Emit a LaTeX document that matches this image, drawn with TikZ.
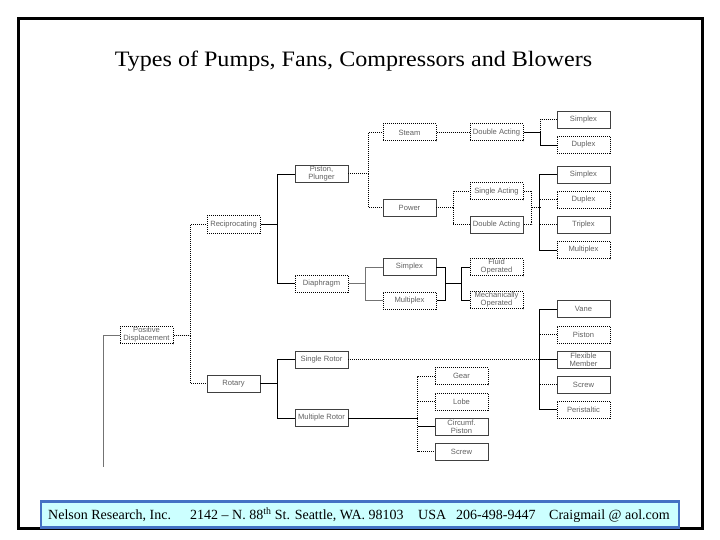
\documentclass[tikz,border=0pt]{standalone}
\usepackage{fontspec}
\setmainfont{Liberation Serif}
\setsansfont{Liberation Sans}
\usetikzlibrary{positioning}
\definecolor{boxtext}{HTML}{606060}
\definecolor{footfill}{HTML}{CCFFFF}
\definecolor{footdraw}{HTML}{4472C4}
\tikzset{
  sbox/.style={draw=black!75, line width=0.7pt, minimum width=53pt, minimum height=17pt, inner sep=0pt,
    font=\sffamily\fontsize{7.6}{8}\selectfont, text=boxtext, align=center},
  dbox/.style={sbox, draw=black, line width=1pt, densely dotted},
  sline/.style={draw=black, line width=0.8pt},
  gline/.style={draw=black!55, line width=0.6pt},
  dline/.style={draw=black, line width=1pt, densely dotted},
}
\begin{document}
\begin{tikzpicture}[x=1pt,y=-1pt]
\useasboundingbox (0,0) rectangle (720,540);
\draw[line width=3pt] (18.5,18.5) rectangle (702,528.5);
\node (title) at (353.5,61) {\fontsize{22}{24}\selectfont\scalebox{1.095}[1]{Types of Pumps, Fans, Compressors and Blowers}};
% footer
\node[draw=footdraw, line width=2.2pt, fill=footfill, minimum width=638pt, minimum height=26pt, inner sep=0pt] (foot) at (360,514.5) {};
\begin{scope}[every node/.style={font=\fontsize{14}{16}\selectfont, inner sep=0pt, anchor=base west}]
\node (f1) at (48,519.5) {Nelson Research, Inc.};
\node (f2) at (190,519.5) {2142 – N. 88\textsuperscript{th} St. Seattle, WA. 98103};
\node (f3) at (418,519.5) {USA};
\node (f4) at (456,519.5) {206-498-9447};
\node (f5) at (549,519.5) {Craigmail @ aol.com};
\end{scope}
% level 1
\node[dbox] (pd) at (146.5,335) {Positive\\Displacement};
\node[dbox] (rec) at (233.5,224.5) {Reciprocating};
\node[sbox] (rot) at (233.5,383.5) {Rotary};
% level 2
\node[sbox] (pis) at (321.5,174) {Piston,\\Plunger};
\node[dbox] (dia) at (321.5,283.5) {Diaphragm};
\node[sbox] (sr) at (321.5,359.5) {Single Rotor};
\node[sbox] (mr) at (321.5,418) {Multiple Rotor};
% level 3
\node[dbox] (steam) at (409.5,132.5) {Steam};
\node[sbox] (pow) at (409.5,207.5) {Power};
\node[sbox] (dsim) at (409.5,267) {Simplex};
\node[dbox] (dmul) at (409.5,300.5) {Multiplex};
\node[dbox] (gear) at (461.5,376) {Gear};
\node[dbox] (lobe) at (461.5,401.5) {Lobe};
\node[sbox] (circ) at (461.5,426.5) {Circumf.\\Piston};
\node[sbox] (scr2) at (461.5,451.5) {Screw};
% level 4
\node[dbox] (da1) at (496.5,132.5) {Double Acting};
\node[dbox] (sa) at (496.5,191.5) {Single Acting};
\node[sbox] (da2) at (496.5,224.5) {Double Acting};
\node[dbox] (fluid) at (496.5,267) {Fluid\\Operated};
\node[dbox] (mech) at (496.5,300) {Mechanically\\Operated};
% level 5
\node[sbox] (sim1) at (583.5,119.5) {Simplex};
\node[dbox] (dup1) at (583.5,145) {Duplex};
\node[sbox] (sim2) at (583.5,174.5) {Simplex};
\node[dbox] (dup2) at (583.5,200) {Duplex};
\node[sbox] (tri) at (583.5,224.5) {Triplex};
\node[dbox] (mul) at (583.5,250) {Multiplex};
\node[sbox] (vane) at (583.5,309) {Vane};
\node[dbox] (pist) at (583.5,334.5) {Piston};
\node[sbox] (flex) at (583.5,359.5) {Flexible\\Member};
\node[sbox] (scr) at (583.5,384.5) {Screw};
\node[dbox] (peri) at (583.5,409.5) {Peristaltic};
% coordinates
\coordinate (lend) at (103,467);
% connectors
\draw[gline] (pd.west) -| (lend);
\draw[dline] (pd.east) -- ++(17,0) |- (rec.west);
\draw[dline] (pd.east) -- ++(17,0) |- (rot.west);
\draw[sline] (rec.east) -- ++(17,0) |- (pis.west);
\draw[sline] (rec.east) -- ++(17,0) |- (dia.west);
\draw[sline] (rot.east) -- ++(17,0) |- (sr.west);
\draw[sline] (rot.east) -- ++(17,0) |- (mr.west);
\draw[dline] (pis.east) -- ++(20,0) |- (steam.west);
\draw[dline] (pis.east) -- ++(20,0) |- (pow.west);
\draw[dline] (steam.east) -- (da1.west);
\draw[dline] (pow.east) -- ++(17,0) |- (sa.west);
\draw[dline] (pow.east) -- ++(17,0) |- (da2.west);
\draw[sline] (da1.east) -- ++(17,0) |- (dup1.west);
\draw[dline] (da1.east) ++(17,0) |- (sim1.west);
\draw[dline] (sa.east) -- ++(8,0) |- (da2.east);
\draw[dline] (sa.east) ++(8,16.5) -- ++(9,0);
\draw[sline] (sim2.west) -- ++(-17,0) |- (mul.west);
\draw[dline] (dup2.west) -- ++(-17,0);
\draw[dline] (tri.west) -- ++(-17,0);
\draw[gline] (dia.east) -- ++(17,0) |- (dsim.west);
\draw[gline] (dia.east) -- ++(17,0) |- (dmul.west);
\draw[sline] (dsim.east) -- ++(9,0) |- (dmul.east);
\draw[sline] (dsim.east) ++(9,16.5) -- ++(17,0);
\draw[sline] (fluid.west) -- ++(-8,0) |- (mech.west);
\draw[dline] (sr.east) -- ++(192,0);
\draw[sline] (vane.west) -- ++(-17,0) |- (peri.west);
\draw[dline] (vane.west) -- ++(-17,0);
\draw[dline] (pist.west) -- ++(-17,0);
\draw[sline] (flex.west) -- ++(-17,0);
\draw[dline] (scr.west) -- ++(-17,0);
\draw[dline] (peri.west) -- ++(-17,0);
\draw[sline] (mr.east) -- ++(70,0);
\draw[dline] (gear.west) -- ++(-17,0) |- (scr2.west);
\draw[dline] (lobe.west) -- ++(-17,0);
\draw[sline] (circ.west) -- ++(-17,0);
\end{tikzpicture}
\end{document}
